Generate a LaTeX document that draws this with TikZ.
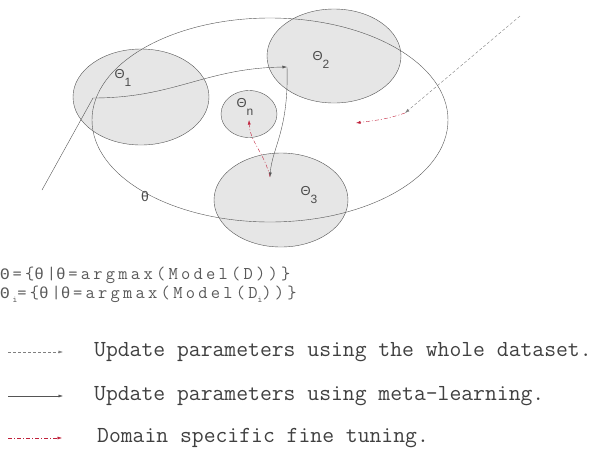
\documentclass[tikz,border=0pt]{standalone}
\usepackage{fontspec}
\setmainfont{Liberation Sans}
\newfontfamily\legendfont{Latin Modern Mono}
\newfontfamily\setfont[LetterSpace=18]{Latin Modern Mono}
\newfontfamily\grkfont{Liberation Mono}
\usetikzlibrary{shapes.geometric,arrows.meta}
\definecolor{edge}{HTML}{555555}
\definecolor{shade}{HTML}{E6E6E6}
\definecolor{tune}{HTML}{C0203A}
\newcommand\lowidx[1]{\raisebox{-8pt}{\fontsize{12}{12}\selectfont #1}}
\newcommand\grk[1]{\makebox[12.4pt][l]{\grkfont\fontsize{16}{16}\selectfont #1}}
\newcommand\idx{\raisebox{-4pt}{\fontsize{9}{9}\selectfont i}}
\tikzset{
  region/.style={ellipse,draw=edge,fill=shade,inner sep=0pt},
  space/.style={ellipse,draw=edge,inner sep=0pt,minimum width=356pt,minimum height=204pt},
  tag/.style={text=black!70,font=\fontsize{13}{13}\selectfont,inner sep=0pt},
  whole/.style={->,draw=gray,dash pattern=on 3pt off 2pt},
  meta/.style={->,draw=edge},
  tuning/.style={->,draw=tune,dash pattern=on 4pt off 2pt on 1pt off 2pt},
  legend/.style={anchor=west,inner sep=0pt,text=black!75,font=\legendfont\fontsize{23}{23}\selectfont},
  formula/.style={anchor=west,inner sep=0pt,text=black!65,font=\setfont\fontsize{18}{18}\selectfont}
}
\begin{document}
\begin{tikzpicture}[x=1pt,y=-1pt,>={Latex[length=4.5pt,width=3pt]}]
  \useasboundingbox (0,0) rectangle (595,451);
  % parameter regions
  \node[region,minimum width=136pt,minimum height=96pt] (t1) at (141,97) {};
  \node[region,minimum width=134pt,minimum height=94pt] (t2) at (334,56) {};
  \node[region,minimum width=134pt,minimum height=94pt] (t3) at (281,200) {};
  \node[region,minimum width=56pt,minimum height=47pt] (tn) at (249,114) {};
  \node[space] (all) at (270,120) {};

  \node[tag] (l1) at (123,78) {Θ\lowidx{1}};
  \node[tag] (l2) at (321,60) {Θ\lowidx{2}};
  \node[tag] (l3) at (309,195) {Θ\lowidx{3}};
  \node[tag] (ln) at (245,107) {Θ\lowidx{n}};
  \node[tag,font=\fontsize{14}{14}\selectfont] (lall) at (145,196) {θ};

  % meta-learning path
  \coordinate (m0) at (42,190);
  \coordinate (m1) at (93,98);
  \coordinate (m2) at (287,67);
  \coordinate (m3) at (270,177);
  \draw[meta] (m0) -- (m1) .. controls (175,98) and (205,68) .. (m2);
  \draw[meta] (m2) .. controls (289,130) and (272,148) .. (m3);

  % whole dataset update and fine tuning
  \coordinate (w0) at (520,16);
  \coordinate (w1) at (405,113);
  \coordinate (f1) at (356,123);
  \draw[whole] (w0) -- (w1);
  \draw[tuning] (w1) .. controls (385,120) and (370,121) .. (f1);
  \draw[tuning] (m3) .. controls (264,152) and (250,142) .. ([yshift=-6pt]tn.center);

  % definitions
  \node[formula] (d1) at (0,275) {\grk{Θ}=\{\grk{θ}|\grk{θ}=argmax(Model(D))\}};
  \node[formula] (d2) at (0,294) {\grk{Θ}\idx=\{\grk{θ}|\grk{θ}=argmax(Model(D\idx))\}};

  % legend
  \node[legend] (k1) at (94,352) {Update parameters using the whole dataset.};
  \node[legend] (k2) at (94,396) {Update parameters using meta-learning.};
  \node[legend] (k3) at (97,438) {Domain specific fine tuning.};
  \draw[whole] ([xshift=-86pt]k1.west) -- ([xshift=-31pt]k1.west);
  \draw[meta] ([xshift=-86pt]k2.west) -- ([xshift=-31pt]k2.west);
  \draw[tuning] ([xshift=-89pt]k3.west) -- ([xshift=-35pt]k3.west);
\end{tikzpicture}
\end{document}
